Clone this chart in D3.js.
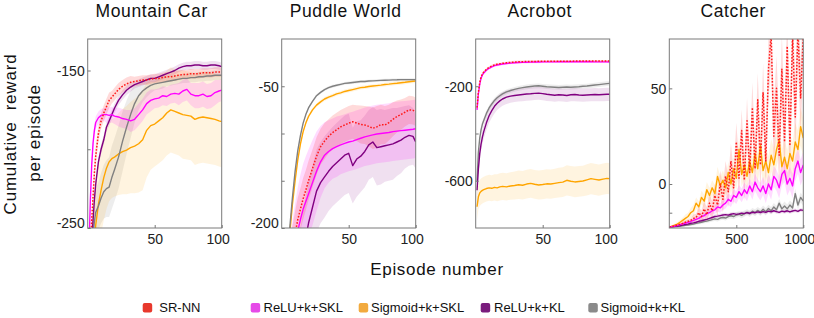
<!DOCTYPE html>
<html>
<head>
<meta charset="utf-8">
<script src="https://cdn.jsdelivr.net/npm/d3@7"></script>
<style>
html,body{margin:0;padding:0;background:#fff;}
svg{display:block;font-family:"Liberation Sans",Arial,Helvetica,sans-serif;}
</style>
</head>
<body>
<svg id="chart" width="814" height="318"></svg>
<script>
// ---------------- DATA ----------------
const seriesNames = ["SR-NN","ReLU+k+SKL","Sigmoid+k+SKL","ReLU+k+KL","Sigmoid+k+KL"];
const panelTitles = ["Mountain Car","Puddle World","Acrobot","Catcher"];

// Mountain Car
const mcEp = [1,2,3,4,5,6,8,10,12,14,16,18,20,23,26,29,32,35,38,41,44,47,50,53,56,59,62,65,68,71,74,77,80,83,86,89,92,95,98,100];
const mcYDomain = [-250,-130];
const mcYTicks = [-250,-200,-150];
const mcYLabels = [-250,-150];
const mcXTicks = [50,100];
const mcSRNN = [-280,-262,-245,-230,-215,-204,-190,-182,-177,-173,-169,-167,-165,-162,-160,-158.5,-157.5,-157,-156.5,-156,-156,-155.5,-155,-155,-154.5,-154,-154,-153.5,-153,-152.5,-152.5,-152,-152,-152,-151.5,-151.5,-151.5,-151,-151,-151];
const mcSRNNsd = [6,6,6,6,6,6,5,5,5,5,5,4,4,4,4,4,4,3,3,3,3,3,3,3,3,3,3,3,3,3,3,3,3,3,3,3,3,3,3,3];
const mcReluSkl = [-262,-232,-210,-196,-188,-183,-180,-178.5,-178,-178,-178.5,-178,-179,-179.5,-180.5,-181,-182,-181,-178,-175,-171,-169,-168,-167.5,-166,-166.5,-165,-164.5,-165,-163,-162,-165,-166,-166,-165,-166.5,-166,-164,-163,-162.5];
const mcReluSklsd = [4,4,4,4,4,4,4,4,4,5,5,5,5,6,6,6,7,7,7,7,7,7,6,6,6,6,6,6,7,7,7,7,8,8,8,8,8,8,7,7];
const mcSigSkl = [-320,-300,-285,-270,-258,-248,-235,-226,-218,-212,-208,-206,-205,-203,-201.5,-200.5,-199,-198,-196.5,-194,-188,-185,-184,-182,-180,-177,-175,-176,-177,-178,-178.5,-179,-181,-180,-179.5,-180,-180.5,-181,-182,-182.5];
const mcSigSklsd = [28,28,28,28,28,28,28,28,27,26,25,25,25,26,27,28,29,30,31,32,30,28,27,27,27,27,27,27,27,28,28,28,29,29,29,29,29,29,29,29];
const mcReluKl = [-290,-275,-258,-245,-232,-222,-208,-200,-194,-186,-182,-178,-174,-169,-165.5,-162.5,-160.5,-159,-158,-157,-156,-155,-155,-154,-153,-152,-151,-150,-148.5,-147.5,-147,-147,-146.5,-146.5,-147,-147,-146.5,-146.5,-147,-147.5];
const mcReluKlsd = [3,3,3,3,3,3,3,3,3,3,3,3,3,3,3,3,3,2.5,2.5,2.5,2.5,2.5,2.5,2.5,2.5,2.5,2.5,2.5,2.5,2.5,2.5,2.5,2.5,2.5,2.5,2.5,2.5,2.5,2.5,2.5];
const mcSigKl = [-300,-280,-265,-254,-246,-240,-236,-231,-227,-225,-224,-218,-213,-205,-195,-186,-178,-171,-166,-163,-161,-159.5,-158.5,-158,-157.5,-157,-156.5,-156,-155.5,-155,-155,-154.5,-154.5,-154,-154,-153.5,-153.5,-153,-153,-153];
const mcSigKlsd = [15,15,15,15,15,15,15,16,17,18,19,20,20,20,19,17,15,12,9,7,6,5,4,4,4,3,3,3,3,3,3,3,3,3,3,3,3,3,3,3];

// Puddle World
const pwEp = [1,2,3,4,5,6,8,10,12,14,16,18,20,23,26,29,32,35,38,41,44,47,50,53,56,59,62,65,68,71,74,77,80,83,86,89,92,95,98,100];
const pwYDomain = [-200,0];
const pwYTicks = [-200,-150,-100,-50];
const pwYLabels = [-200,-50];
const pwXTicks = [50,100];
const pwSRNN = [-330,-310,-290,-270,-255,-240,-222,-206,-191,-180,-169,-160,-150,-137,-124,-114,-108,-103,-99,-96,-93,-91,-89,-87.5,-89,-90.5,-91,-92.5,-94.5,-93,-90.5,-91,-88.5,-85,-82,-80,-77.5,-75,-75.5,-77];
const pwSRNNsd = [25,25,25,25,25,25,24,24,23,22,22,21,21,20,20,19,19,18,18,18,18,18,18,18,19,20,20,21,22,22,21,20,19,18,17,16,15,15,15,15];
const pwReluSkl = [-340,-320,-300,-285,-270,-257,-235,-218,-203,-191,-180,-172,-164,-152,-140,-130,-123,-119,-116,-114,-112,-110.5,-109,-108,-106.5,-105,-103.5,-102.5,-101.5,-100.5,-100,-99.5,-99,-98,-97.5,-97,-96.5,-96,-95.5,-95];
const pwReluSklsd = [40,40,40,40,40,40,42,44,46,48,48,48,47,45,42,38,35,33,32,32,31,31,31,31,31,31,31,31,31,31,31,31,31,31,31,31,31,31,31,31];
const pwSigSkl = [-340,-310,-280,-255,-230,-206,-175,-150,-128,-111,-98,-89,-82,-75,-70,-66.5,-63.5,-61.5,-60,-58,-57,-55.5,-54.5,-53.5,-52.5,-51.5,-51,-50.3,-49.8,-49.3,-48.8,-48.2,-47.8,-47.2,-46.8,-46.3,-45.8,-45.2,-44.7,-44.5];
const pwSigSklsd = [2,2,2,2,2,2,2,2,2,2,2,2,2,2,2,2,2,2,2,2,2,2,2,2,2,2,2,2,2,2,2,2,2,2,2,2,2,2,2,2];
const pwReluKl = [-420,-400,-380,-360,-345,-330,-300,-280,-262,-245,-228,-210,-195,-178,-161,-152,-146,-140,-135,-131,-127,-123,-121,-134,-127,-124,-119,-112,-109,-115,-114,-113,-112,-111,-109,-107,-104,-102,-103,-109];
const pwReluKlsd = [45,45,45,45,45,45,45,45,45,45,45,45,45,44,44,43,43,42,42,42,42,42,42,40,40,38,38,37,37,40,40,38,38,38,36,35,33,32,30,28];
const pwSigKl = [-330,-300,-270,-245,-222,-200,-168,-140,-118,-102,-89,-80,-73,-66,-60,-56.5,-53.5,-51.5,-50,-49,-48,-47,-46.5,-46,-45.5,-45,-45,-44.5,-44.3,-44,-43.8,-43.6,-43.5,-43.3,-43.2,-43,-43,-43,-43,-43];
const pwSigKlsd = [1.5,1.5,1.5,1.5,1.5,1.5,1.5,1.5,1.5,1.5,1.5,1.5,1.5,1.5,1.5,1.5,1.5,1.5,1.5,1.5,1.5,1.5,1.5,1.5,1.5,1.5,1.5,1.5,1.5,1.5,1.5,1.5,1.5,1.5,1.5,1.5,1.5,1.5,1.5,1.5];

// Acrobot
const acEp = [1,2,3,4,5,6,8,10,12,14,16,18,20,23,26,29,32,35,38,41,44,47,50,53,56,59,62,65,68,71,74,77,80,83,86,89,92,95,98,100];
const acYDomain = [-800,0];
const acYTicks = [-600,-400,-200];
const acYLabels = [-600,-200];
const acXTicks = [50,100];
const acSRNN = [-290,-225,-185,-160,-148,-140,-128,-120,-114,-110,-107,-105,-103,-101,-99,-97.5,-96.5,-96,-95.5,-95,-95,-94.5,-94.5,-94.5,-94,-94,-94,-94,-94,-94,-93.5,-93.5,-93.5,-93.5,-93.5,-93.5,-93.5,-93.5,-93.5,-93.5];
const acSRNNsd = [5,5,5,5,5,5,5,5,5,5,5,5,5,5,5,5,5,5,5,5,5,5,5,5,5,5,5,5,5,5,5,5,5,5,5,5,5,5,5,5];
const acReluSkl = [-300,-232,-192,-166,-152,-144,-132,-124,-118,-113,-110,-108,-106,-104,-102,-100.5,-99.5,-99,-98.5,-98,-97.5,-97.5,-97,-97,-97,-97,-96.5,-96.5,-96.5,-96.5,-96.5,-96.5,-96.5,-96.5,-96.5,-97,-97,-97,-97,-97.5];
const acReluSklsd = [5,5,5,5,5,5,5,5,5,5,5,5,5,5,5,5,5,5,5,5,5,5,5,5,5,5,5,5,5,5,5,5,5,5,5,5,5,5,5,5];
const acSigSkl = [-710,-668,-652,-645,-641,-638,-633,-630,-632,-628,-630,-626,-624,-626,-622,-620,-617,-619,-614,-611,-615,-618,-616,-613,-614,-611,-608,-606,-598,-602,-605,-603,-601,-596,-591,-594,-597,-593,-590,-591];
const acSigSklsd = [55,55,55,55,55,55,55,55,55,56,57,58,58,58,58,59,60,60,61,61,61,61,62,62,62,62,63,63,64,64,65,65,65,66,66,66,66,66,66,66];
const acReluKl = [-640,-550,-485,-445,-415,-392,-355,-325,-303,-285,-272,-262,-254,-246,-242,-239,-237,-235,-233,-232,-230,-229,-231,-234,-236,-238,-236,-237,-239,-236,-235,-237,-238,-237,-236,-235,-236,-235,-234,-234];
const acReluKlsd = [30,30,30,30,30,30,30,30,30,30,29,29,29,29,28,28,28,28,28,28,28,28,28,28,28,28,28,28,28,28,28,28,28,28,28,28,28,28,28,28];
const acSigKl = [-600,-480,-420,-385,-360,-345,-315,-292,-275,-260,-249,-240,-232,-224,-218,-213,-209,-206,-203,-201,-199,-198,-200,-202,-203,-204,-205,-204,-203,-204,-203,-202,-200,-199,-197,-195,-193,-191,-189,-188];
const acSigKlsd = [12,12,12,12,12,12,12,12,11,11,11,11,10,10,10,10,10,10,10,10,10,10,10,10,10,10,10,10,10,10,10,10,10,10,10,10,10,10,10,10];

// Catcher
const caEp = [0,20,40,60,80,100,120,140,160,180,200,220,240,260,280,300,320,340,360,380,400,420,440,460,480,500,520,540,560,580,600,620,640,660,680,700,720,740,760,780,800,820,840,860,880,900,920,940,960,980,1000];
const caYDomain = [-23,75.8];
const caYTicks = [-15,0,50];
const caYLabels = [0,50];
const caXTicks = [500,1000];
const caSRNN = [-22.6,-22.2,-21.8,-21.4,-21,-20.6,-20,-19.5,-19,-18,-17.5,-15,-17,-13,-16,-10,-14,-6,-11,0,-8,4,-4,12,-2,22,3,28,2,33,6,40,8,44,10,48,12,60,78,25,50,15,60,22,72,20,78,35,80,45,78];
const caSRNNsd = [0.5,0.5,0.5,0.5,0.5,1,1,1,1,2,2,3,3,4,4,5,5,6,6,7,7,8,8,9,9,10,10,11,11,12,12,13,13,14,14,15,15,16,16,17,17,18,18,18,18,18,18,18,18,18,18];
const caReluSkl = [-22.6,-22.3,-22,-21.6,-21.2,-20.8,-20.4,-20,-19.5,-19,-18.5,-18,-17,-16.5,-15.5,-15,-14,-13.5,-12,-12.5,-11,-10,-8,-9,-6,-7,-4,-6,-3,-5,-1,-4,1,-2,-4,-1,-5,0,-3,4,2,-2,5,7,0,3,-1,8,12,6,10];
const caReluSklsd = [0.3,0.3,0.4,0.5,0.6,0.7,0.8,0.9,1,1,1.2,1.3,1.5,1.6,1.8,2,2,2.2,2.4,2.5,2.6,2.8,3,3,3.2,3.4,3.5,3.6,3.8,4,4,4.2,4.4,4.5,4.6,4.8,5,5,5.2,5.4,5.5,5.6,5.8,6,6,6.2,6.4,6.5,6.6,6.8,7];
const caSigSkl = [-22.6,-22,-21.5,-21,-20,-19,-18,-17,-15,-14,-10,-12,-7,-9,-3,-6,-2,-5,4,-1,2,-2,6,0,8,3,18,5,10,4,12,6,16,8,20,7,12,6,15,10,18,23,9,14,8,16,12,22,18,30,24];
const caSigSklsd = [0.3,0.5,0.7,1,1.2,1.5,2,2,2.5,3,3,3,3.5,3.5,4,4,4,4.5,5,5,5,5,5.5,5.5,6,6,6.5,6.5,7,7,7,7.5,7.5,8,8,8,8,8.5,8.5,9,9,9,9,9.5,9.5,10,10,10,10,10,10];
const caReluKl = [-22.6,-22.4,-22.2,-22,-21.8,-21.5,-21.2,-21,-20.5,-20.3,-20,-19.5,-19.2,-18.8,-18.5,-18,-17.5,-17,-16.8,-16.5,-16.2,-16,-16.3,-15.8,-15.5,-15.9,-15.6,-15.2,-15.5,-15,-15.3,-14.8,-15,-14.6,-14.9,-14.4,-14.8,-14.2,-14.5,-14,-14.4,-14.8,-14.2,-14.5,-14,-14.6,-14.1,-13.8,-14.3,-13.5,-13.8];
const caReluKlsd = [0.2,0.3,0.3,0.4,0.4,0.5,0.5,0.6,0.6,0.7,0.7,0.8,0.8,0.8,0.9,0.9,0.9,1,1,1,1,1,1,1,1,1,1,1,1,1,1,1,1,1,1,1,1,1,1,1,1,1,1,1,1,1,1,1,1,1,1];
const caSigKl = [-22.6,-22.5,-22.3,-22.2,-22,-21.8,-21.6,-21.4,-21.2,-21,-20.6,-20.3,-20,-19.6,-19.4,-19,-18.6,-18.2,-18.5,-17.8,-17.5,-17.8,-17,-16.6,-17,-16.2,-15.8,-16.4,-15.5,-14.8,-15.6,-14.2,-15,-13.8,-14.8,-13.2,-14.5,-12.8,-14,-12,-13.5,-10,-13,-11.5,-13,-11,-12.5,-5,-11,-7,-9];
const caSigKlsd = [0.3,0.3,0.4,0.4,0.5,0.5,0.6,0.6,0.7,0.7,0.8,0.8,0.9,0.9,1,1,1,1.1,1.1,1.2,1.2,1.3,1.3,1.4,1.4,1.5,1.5,1.5,1.6,1.6,1.7,1.7,1.8,1.8,1.9,1.9,2,2,2,2.1,2.1,2.2,2.2,2.3,2.3,2.4,2.4,2.5,2.5,2.5,2.5];

// ---------------- LAYOUT / STYLE ----------------
const colors = {"SR-NN":"#ff1a1a","ReLU+k+SKL":"#ff00ff","Sigmoid+k+SKL":"#ffa500","ReLU+k+KL":"#800080","Sigmoid+k+KL":"#808080"};
const legendColors = {"SR-NN":"#e8382c","ReLU+k+SKL":"#e64ae8","Sigmoid+k+SKL":"#f2aa3e","ReLU+k+KL":"#7a1c7d","Sigmoid+k+KL":"#8a8a8a"};
const bandOpacity = {"SR-NN":0.16,"ReLU+k+SKL":0.14,"Sigmoid+k+SKL":0.12,"ReLU+k+KL":0.12,"Sigmoid+k+KL":0.14};
const fontFam = '"Liberation Sans",Arial,Helvetica,sans-serif';

const panels = [
  {ep:mcEp, yDomain:mcYDomain, yTicks:mcYTicks, yLabels:mcYLabels, xDomain:[0,100], xTicks:mcXTicks,
   vals:[mcSRNN,mcReluSkl,mcSigSkl,mcReluKl,mcSigKl], sds:[mcSRNNsd,mcReluSklsd,mcSigSklsd,mcReluKlsd,mcSigKlsd]},
  {ep:pwEp, yDomain:pwYDomain, yTicks:pwYTicks, yLabels:pwYLabels, xDomain:[0,100], xTicks:pwXTicks,
   vals:[pwSRNN,pwReluSkl,pwSigSkl,pwReluKl,pwSigKl], sds:[pwSRNNsd,pwReluSklsd,pwSigSklsd,pwReluKlsd,pwSigKlsd]},
  {ep:acEp, yDomain:acYDomain, yTicks:acYTicks, yLabels:acYLabels, xDomain:[0,100], xTicks:acXTicks,
   vals:[acSRNN,acReluSkl,acSigSkl,acReluKl,acSigKl], sds:[acSRNNsd,acReluSklsd,acSigSklsd,acReluKlsd,acSigKlsd]},
  {ep:caEp, yDomain:caYDomain, yTicks:caYTicks, yLabels:caYLabels, xDomain:[0,1000], xTicks:caXTicks,
   vals:[caSRNN,caReluSkl,caSigSkl,caReluKl,caSigKl], sds:[caSRNNsd,caReluSklsd,caSigSklsd,caReluKlsd,caSigKlsd]}
];
const panelLeft = [87.7, 281.7, 475.7, 669.3];
const panelW = 134, plotTop = 39, plotBottom = 228;

const svg = d3.select("#chart");
const defs = svg.append("defs");

const bandOrder = [4,2,3,1,0];
const lineOrder = [2,4,3,1,0];

panels.forEach((p, pi) => {
  const x0 = panelLeft[pi];
  const x = d3.scaleLinear().domain(p.xDomain).range([x0, x0 + panelW]);
  const y = d3.scaleLinear().domain(p.yDomain).range([plotBottom, plotTop]);
  const clipId = "clip" + pi;
  defs.append("clipPath").attr("id", clipId).append("rect")
    .attr("x", x0).attr("y", plotTop).attr("width", panelW).attr("height", plotBottom - plotTop);

  const g = svg.append("g");
  const plot = g.append("g").attr("clip-path", `url(#${clipId})`);

  bandOrder.forEach(si => {
    const name = seriesNames[si];
    const data = p.ep.map((e, i) => ({e, v: p.vals[si][i], s: p.sds[si][i]}));
    const area = d3.area().x(d => x(d.e)).y0(d => y(d.v - d.s)).y1(d => y(d.v + d.s));
    plot.append("path").datum(data).attr("d", area)
      .attr("fill", colors[name]).attr("fill-opacity", bandOpacity[name]).attr("stroke", "none");
  });
  lineOrder.forEach(si => {
    const name = seriesNames[si];
    const data = p.ep.map((e, i) => ({e, v: p.vals[si][i]}));
    const line = d3.line().x(d => x(d.e)).y(d => y(d.v));
    const path = plot.append("path").datum(data).attr("d", line)
      .attr("fill", "none").attr("stroke", colors[name])
      .attr("stroke-width", 1.4).attr("stroke-linejoin", "round");
    if (name === "SR-NN") path.attr("stroke-dasharray", "1.6,1.6").attr("stroke-width", 1.5);
  });

  const yAxis = d3.axisLeft(y).tickValues(p.yTicks).tickSize(-3).tickPadding(3)
    .tickFormat(d => p.yLabels.includes(d) ? String(d) : "");
  const ya = g.append("g").attr("transform", `translate(${x0},0)`).call(yAxis);
  ya.select(".domain").remove();
  ya.selectAll(".tick line").attr("stroke", "#777");
  ya.selectAll(".tick text").attr("font-size", 14).attr("font-family", fontFam).attr("fill", "#222")
    .attr("dy", d => d === p.yDomain[0] ? "-0.05em" : "0.34em");

  const xAxis = d3.axisBottom(x).tickValues(p.xTicks).tickSize(-3).tickPadding(6).tickFormat(d => String(d));
  const xa = g.append("g").attr("transform", `translate(0,${plotBottom})`).call(xAxis);
  xa.select(".domain").remove();
  xa.selectAll(".tick line").attr("stroke", "#777");
  xa.selectAll(".tick text").attr("font-size", 14).attr("font-family", fontFam).attr("fill", "#222")
    .attr("dx", d => d === p.xDomain[1] ? -4 : 0);

  g.append("rect").attr("x", x0).attr("y", plotTop).attr("width", panelW).attr("height", plotBottom - plotTop)
    .attr("fill", "none").attr("stroke", "#7a7a7a").attr("stroke-width", 1);

  g.append("text").attr("x", x0 + panelW / 2 - 3).attr("y", 17)
    .attr("text-anchor", "middle").attr("font-size", 17.5).attr("letter-spacing", 0.6)
    .attr("font-family", fontFam).attr("fill", "#111")
    .text(panelTitles[pi]);
});

svg.append("text").attr("transform", "translate(16,134) rotate(-90)")
  .attr("text-anchor", "middle").attr("font-size", 17).attr("letter-spacing", 0.8)
  .attr("font-family", fontFam).attr("fill", "#111")
  .style("white-space", "pre").text("Cumulative  reward");
svg.append("text").attr("transform", "translate(39.5,133) rotate(-90)")
  .attr("text-anchor", "middle").attr("font-size", 17).attr("letter-spacing", 0.8)
  .attr("font-family", fontFam).attr("fill", "#111")
  .text("per episode");
svg.append("text").attr("x", 437).attr("y", 275)
  .attr("text-anchor", "middle").attr("font-size", 17).attr("letter-spacing", 0.7)
  .attr("font-family", fontFam).attr("fill", "#111")
  .text("Episode number");

const legendX = [142.7, 250.7, 358.7, 480.7, 588.3];
const legendTextX = [159.3, 263.5, 371, 494, 600.5];
const lg = svg.append("g");
seriesNames.forEach((name, i) => {
  lg.append("rect").attr("x", legendX[i]).attr("y", 303).attr("width", 9.5).attr("height", 9.5)
    .attr("rx", 2).attr("fill", legendColors[name]);
  lg.append("text").attr("x", legendTextX[i]).attr("y", 312.3).attr("font-size", 13)
    .attr("font-family", fontFam).attr("fill", "#111").text(name);
});
</script>
</body>
</html>
